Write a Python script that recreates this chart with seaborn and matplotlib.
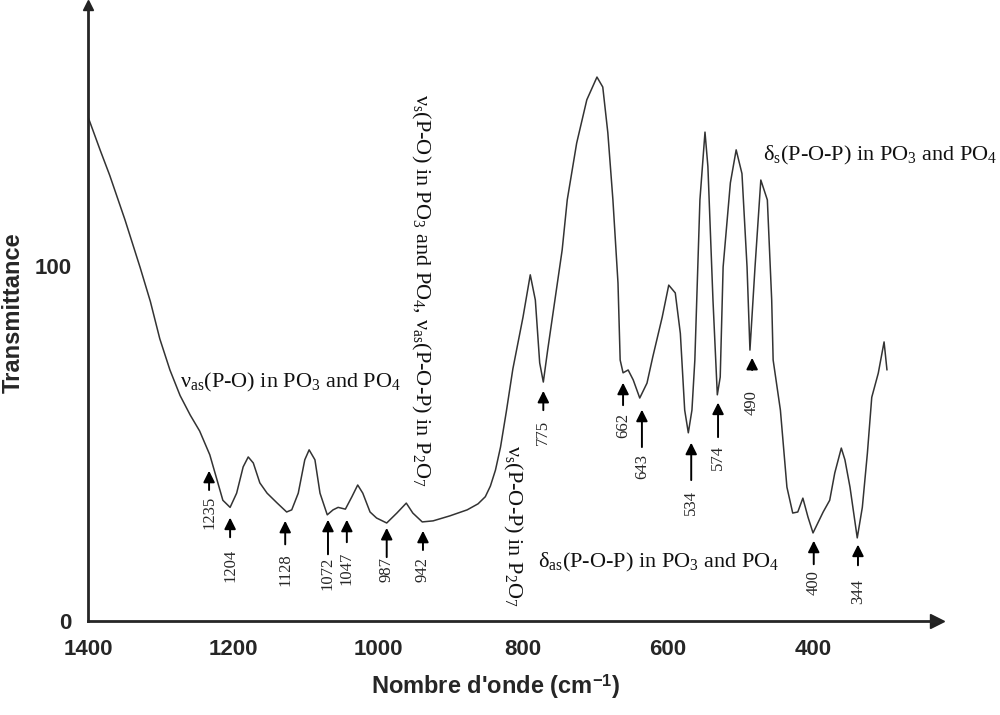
import numpy as np
import pandas as pd
import matplotlib
matplotlib.use("Agg")
import matplotlib.pyplot as plt
import seaborn as sns

# spectrum (wavenumber cm-1, transmittance)
wavenumber = [1400, 1383, 1370, 1349, 1328, 1314, 1301, 1287, 1273, 1259, 1246, 1232,
              1222, 1214, 1204, 1195, 1186, 1179, 1172, 1163, 1153, 1139, 1126, 1119,
              1110, 1101, 1095, 1087, 1080, 1070, 1062, 1055, 1045, 1036, 1028, 1021,
              1011, 1002, 988, 974, 961, 952, 939, 924, 901, 877, 862, 852, 845, 838,
              831, 823, 814, 800, 790, 783, 777, 772, 766, 756, 746, 739, 726, 712, 698, 690,
              683, 676, 669, 666, 662, 655, 648, 639, 629, 621, 608, 599, 590, 583,
              577, 572, 567, 563, 556, 549, 545, 538, 532, 528, 524, 514, 506, 498,
              491, 487, 480, 472, 463, 457, 455, 445, 436, 428, 421, 414, 407, 400,
              386, 377, 370, 361, 356, 349, 339, 332, 325, 319, 310, 302, 298]
transmittance = [142, 132.5, 125.5, 113, 99.5, 90, 79.5, 70.7, 63.5, 58, 53.5, 46.8,
                 39.7, 34, 32, 36, 43.4, 46.2, 44.5, 38.9, 36, 33.2, 30.7, 31.3,
                 36, 45.4, 48.2, 45.4, 36, 29.9, 31.3, 32, 31.5, 35, 38.3, 36,
                 30.7, 29, 27.6, 30.4, 33.2, 30.4, 27.9, 28.2, 29.6, 31.3, 33, 35, 38, 42.5,
                 49, 59, 71, 85.6, 97.5, 90.4, 72.7, 67.3, 76.3, 90.4, 104.5, 118.6, 134.6, 146.8, 153.2, 150.4,
                 137.5, 118.6, 95.2, 73.5, 69.9, 70.7, 67.9, 62.8, 67, 74.4, 85.6, 94.6, 92.4, 81,
                 59.4, 53, 59.4, 73.5, 118.6, 137.7, 128, 90.4, 63.7, 68.7, 99.7, 123.4, 132.7, 126,
                 99.7, 76.3, 99.7, 124.2, 118.6, 90.4, 73.5, 59.4, 37.7, 30.4, 30.7, 34.6, 29.3, 24.8,
                 30.7, 34, 41.7, 48.7, 45.4, 37.7, 23.4, 32, 47.3, 63, 69.8, 78.6, 70.7]

# marked bands
band_labels = ["1235", "1204", "1128", "1072", "1047", "987", "942", "775", "662",
               "643", "534", "574", "490", "400", "344"]
band_x = [1233, 1204, 1128, 1069, 1043, 988, 938, 772, 662, 636, 568, 531, 484, 399, 338]
arrow_tip = [43.1, 29.9, 29.0, 29.3, 29.3, 27.0, 26.2, 65.6, 67.9, 60.3, 51.0, 62.3, 74.9, 23.4, 22.3]
arrow_tail = [36.1, 22.8, 20.8, 18.0, 21.4, 17.2, 19.2, 58.6, 60.0, 48.2, 38.9, 51.0, 69.9, 15.2, 14.9]
label_y = [30.7, 15.8, 14.4, 13.5, 14.9, 14.4, 14.4, 53.2, 55.2, 43.4, 33.5, 46.2, 61.4, 10.7, 8.2]

df = pd.DataFrame({"wavenumber": wavenumber, "transmittance": transmittance})

sns.set_style("white")
plt.rcParams["font.family"] = ["Liberation Sans", "DejaVu Sans"]
plt.rcParams["mathtext.fontset"] = "custom"
plt.rcParams["mathtext.rm"] = "Liberation Serif"
plt.rcParams["mathtext.it"] = "Liberation Serif:italic"
plt.rcParams["mathtext.bf"] = "Liberation Sans:bold"

fig = plt.figure(figsize=(10, 7.15), dpi=100)
ax = fig.add_axes([0.088, 0.1315, 0.849, 0.8615])

sns.lineplot(data=df, x="wavenumber", y="transmittance", color="#333333",
             linewidth=1.1, ax=ax)

ax.set_xlim(1400, 229)
ax.set_ylim(0, 173.5)

ax.set_xticks([1400, 1200, 1000, 800, 600, 400])
ax.set_xticks([1300, 1100, 900, 700, 500, 300], minor=True)
ax.set_yticks([0, 100])
ax.set_yticks([50, 150], minor=True)
ax.tick_params(which="major", direction="in", length=12, width=2, labelsize=16)
ax.tick_params(axis="x", which="major", pad=13)
ax.tick_params(axis="y", which="major", pad=12)
ax.tick_params(which="minor", direction="in", length=7, width=2)
for lab in ax.get_xticklabels() + ax.get_yticklabels():
    lab.set_fontweight("bold")

for side in ["top", "right"]:
    ax.spines[side].set_visible(False)
for side in ["left", "bottom"]:
    ax.spines[side].set_linewidth(2)
ax.plot(1, 0, ">", color="#222222", markersize=10, transform=ax.transAxes, clip_on=False)
ax.plot(0, 1, "^", color="#222222", markersize=7, transform=ax.transAxes, clip_on=False)

ax.set_xlabel("Nombre d'onde (cm$^{\\mathbf{-1}}$)", fontsize=17, fontweight="bold")
ax.xaxis.set_label_coords(0.48, -0.083)
ax.set_ylabel("Transmittance", fontsize=17, fontweight="bold")
ax.yaxis.set_label_coords(-0.074, 0.5)

for lab, x, tip, tail, ly in zip(band_labels, band_x, arrow_tip, arrow_tail, label_y):
    ax.annotate("", xy=(x, tip), xytext=(x, tail),
                arrowprops=dict(arrowstyle="-|>", color="black", lw=1.4, mutation_scale=17))
    ax.text(x, ly, lab, rotation=90, ha="center", va="center", fontsize=12,
            family="Liberation Serif")

serif = dict(family="Liberation Serif", fontsize=16, color="#111111")
ax.text(1273, 67.3, "ν$_{\\mathrm{as}}$(P-O) in PO$_3$ and PO$_4$", ha="left", va="center", **serif)
ax.text(941, 93, "ν$_{\\mathrm{s}}$(P-O) in PO$_3$ and PO$_4$, ν$_{\\mathrm{as}}$(P-O-P) in P$_2$O$_7$",
        rotation=270, ha="center", va="center", **serif)
ax.text(814, 26.8, "ν$_{\\mathrm{s}}$(P-O-P) in P$_2$O$_7$", rotation=270,
        ha="center", va="center", **serif)
ax.text(779, 16.6, "δ$_{\\mathrm{as}}$(P-O-P) in PO$_3$ and PO$_4$", ha="left", va="center", **serif)
ax.text(469, 131, "δ$_{\\mathrm{s}}$(P-O-P) in PO$_3$ and PO$_4$", ha="left", va="center", **serif)

fig.savefig("out.png", dpi=100)
